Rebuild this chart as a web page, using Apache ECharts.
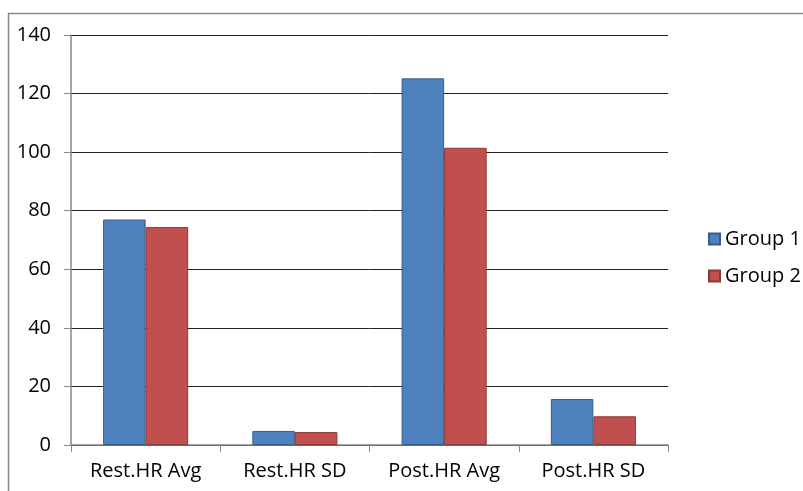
<!DOCTYPE html>
<html><head><meta charset="utf-8">
<script src="https://cdn.jsdelivr.net/npm/echarts@6/dist/echarts.min.js"></script>
<style>html,body{margin:0;padding:0;background:#fff}#c{width:803px;height:491px}</style>
</head><body><div id="c"></div>
<script>
const categories = ['Rest.HR Avg', 'Rest.HR SD', 'Post.HR Avg', 'Post.HR SD'];
const group1 = [77.0, 4.8, 125.2, 15.7];
const group2 = [74.4, 4.4, 101.5, 9.8];
const seriesNames = ['Group 1', 'Group 2'];
const FONT = '"Open Sans", Lato, sans-serif';
const chart = echarts.init(document.getElementById('c'));
chart.setOption({
  animation: false,
  backgroundColor: '#fff',
  graphic: [{type: 'rect', shape: {x: 8.5, y: 13.5, width: 900, height: 600}, style: {fill: 'none', stroke: '#888', lineWidth: 1.5}, silent: true}],
  grid: {left: 71, top: 35, right: 135, bottom: 46},
  legend: {
    orient: 'vertical', left: 703, top: 224, itemGap: 17,
    icon: 'rect', itemWidth: 11, itemHeight: 11, itemTextGap: 5,
    textStyle: {fontFamily: FONT, fontSize: 20, color: '#000'},
    data: seriesNames
  },
  xAxis: {
    type: 'category', data: categories,
    axisLine: {lineStyle: {color: '#868686', width: 1.5}},
    axisTick: {show: true, length: 7, lineStyle: {color: '#868686'}},
    axisLabel: {fontFamily: FONT, fontSize: 20, color: '#000', margin: 16}
  },
  yAxis: {
    type: 'value', min: 0, max: 140, interval: 20,
    axisLine: {show: true, lineStyle: {color: '#868686', width: 1.5}},
    axisTick: {show: true, length: 7, lineStyle: {color: '#868686'}},
    axisLabel: {fontFamily: FONT, fontSize: 20, color: '#000', margin: 20},
    splitLine: {lineStyle: {color: '#222', width: 1}}
  },
  series: [
    {name: seriesNames[0], type: 'bar', data: group1, barGap: '0%', barCategoryGap: '43%',
     itemStyle: {color: '#4F81BD', borderColor: '#385D8A', borderWidth: 1}},
    {name: seriesNames[1], type: 'bar', data: group2,
     itemStyle: {color: '#C0504D', borderColor: '#8C3836', borderWidth: 1}}
  ]
});
</script></body></html>
